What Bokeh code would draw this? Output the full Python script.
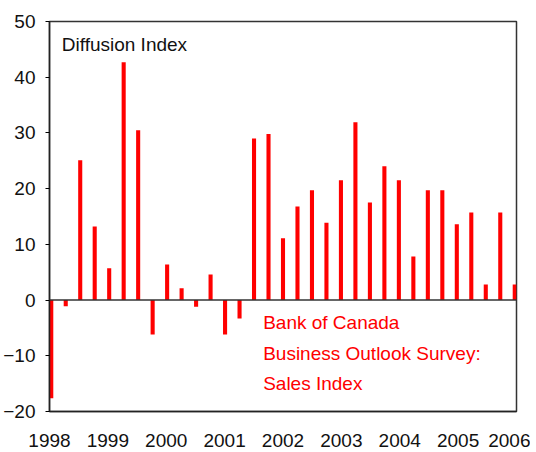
from bokeh.plotting import figure
from bokeh.models import ColumnDataSource, FixedTicker, Range1d, Span, Label
from bokeh.embed import file_html
from bokeh.resources import INLINE

quarters = [f"{y}Q{q}" for y in range(1998, 2006) for q in range(1, 5)] + ["2006Q1"]
sales_index = [-17.6, -1.1, 25.1, 13.2, 5.7, 42.7, 30.5, -6.2,
               6.4, 2.1, -1.2, 4.6, -6.2, -3.3, 29.0, 29.8,
               11.1, 16.8, 19.7, 13.9, 21.5, 31.9, 17.5, 24.0,
               21.5, 7.8, 19.7, 19.7, 13.6, 15.7, 2.8, 15.7,
               2.8]
year_ticks = [1998, 1999, 2000, 2001, 2002, 2003, 2004, 2005, 2006]
y_ticks = [-20, -10, 0, 10, 20, 30, 40, 50]

# quarter positions (bars drawn just inside the year range)
xpos = [1998.03 + i * (7.94 / 32) for i in range(len(quarters))]
src = ColumnDataSource(dict(x=xpos, v=sales_index, q=quarters))

FONT = "Liberation Sans"
p = figure(width=530, height=450, output_backend="svg", toolbar_location=None,
           x_range=Range1d(1998, 2006), y_range=Range1d(-20, 50),
           min_border_left=49, min_border_right=14, min_border_top=21, min_border_bottom=39)

p.vbar(x="x", top="v", bottom=0, width=0.07, source=src, color="#ff0000", line_color=None)
p.add_layout(Span(location=0, dimension="width", line_color="#333333", line_width=1.5))

p.xgrid.visible = False
p.ygrid.visible = False
p.outline_line_color = "#333333"
p.outline_line_width = 1.5
p.background_fill_color = "white"
p.border_fill_color = "white"

p.xaxis.ticker = FixedTicker(ticks=year_ticks)
p.xaxis.major_tick_line_color = None
p.xaxis.minor_tick_line_color = None
p.xaxis.major_label_standoff = 16
p.yaxis.ticker = FixedTicker(ticks=y_ticks)
p.yaxis.minor_tick_line_color = None
p.yaxis.major_tick_in = 0
p.yaxis.major_tick_out = 4
p.yaxis.major_label_standoff = 10
for ax in (p.xaxis, p.yaxis):
    ax.axis_line_color = "#222222"
    ax.axis_line_width = 1.5
    ax.major_label_text_font = FONT
    ax.major_label_text_font_size = "19px"
    ax.major_label_text_color = "#111111"

p.add_layout(Label(x=1998.21, y=45.8, text="Diffusion Index", text_font=FONT,
                   text_font_size="19px", text_color="#111111", text_baseline="middle"))
for txt, yv in [("Bank of Canada", -4.1), ("Business Outlook Survey:", -9.5), ("Sales Index", -14.9)]:
    p.add_layout(Label(x=2001.66, y=yv, text=txt, text_font=FONT, text_font_size="19px",
                       text_color="#ff0000", text_baseline="middle"))

open("out.html", "w").write(file_html(p, INLINE))
